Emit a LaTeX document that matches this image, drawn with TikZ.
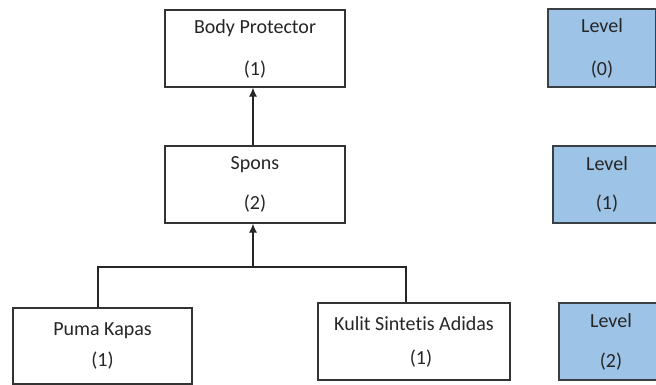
\documentclass[tikz,border=0pt]{standalone}
\usepackage{fontspec}
\setmainfont{Carlito}[Ligatures={NoCommon}]
\usetikzlibrary{arrows.meta}
\definecolor{lvlblue}{HTML}{9DC3E6}
\definecolor{lvledge}{HTML}{3A3F44}
\tikzset{
  box/.style={draw=black!80, line width=1.3pt, fill=white, rectangle, align=center,
    inner sep=0pt, text=black!85, font=\fontsize{20}{40}\selectfont},
  lvlbox/.style={box, draw=lvledge, fill=lvlblue},
  conn/.style={draw=black!85, line width=1.2pt},
  arr/.style={conn, -{Latex[length=9pt,width=8pt]}}
}
\begin{document}
\begin{tikzpicture}[x=1pt,y=-1pt]
\useasboundingbox (0,0) rectangle (656,385);
\clip (0,0) rectangle (656,385);
\fill[white] (0,0) rectangle (656,385);
% main boxes
\node[box, minimum width=180pt, minimum height=77pt, font=\fontsize{20}{42}\selectfont] (bp) at (255,48.5) {Body Protector\\(1)};
\node[box, minimum width=180pt, minimum height=77pt] (sp) at (255,184.5) {Spons\\(2)};
\node[box, minimum width=179pt, minimum height=76pt, font=\fontsize{20}{34}\selectfont] (pk) at (102.5,346) {Puma Kapas\\[-3pt](1)};
\node[box, minimum width=192pt, minimum height=77pt, font=\fontsize{20}{37}\selectfont] (ks) at (414,341.5) {Kulit Sintetis Adidas\\[-3pt]\hspace*{14pt}(1)};
% level boxes
\node[lvlbox, minimum width=108pt, minimum height=78pt, font=\fontsize{20}{43}\selectfont] (l0) at (602,48) {Level\\(0)};
\node[lvlbox, minimum width=108pt, minimum height=77pt, font=\fontsize{20}{39}\selectfont] (l1) at (607,184.5) {Level\\(1)};
\node[lvlbox, minimum width=104pt, minimum height=77pt] (l2) at (611,341.5) {Level\\(2)};
% connectors
\coordinate (j) at (253,267);
\coordinate (jl) at (98,267);
\coordinate (jr) at (406,267);
\draw[conn] (pk.north -| jl) -- (jl) -- (jr) -- (ks.north -| jr);
\draw[arr] (j) -- (sp.south -| j);
\draw[arr] (sp.north -| j) -- (bp.south -| j);
\end{tikzpicture}
\end{document}
